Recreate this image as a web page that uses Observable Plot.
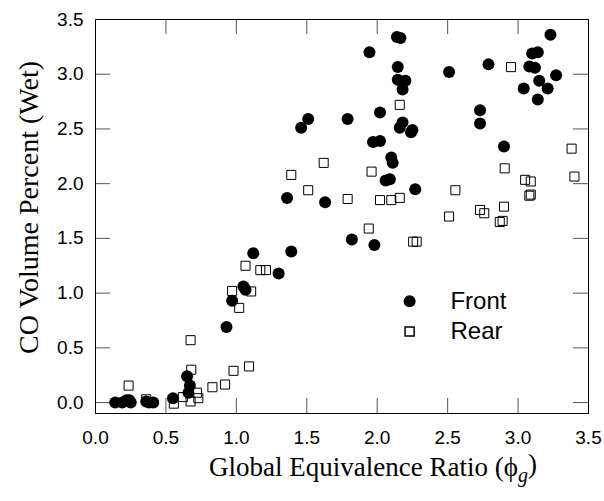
<!DOCTYPE html>
<html>
<head>
<meta charset="utf-8">
<script src="https://cdn.jsdelivr.net/npm/d3@7"></script>
<script src="https://cdn.jsdelivr.net/npm/@observablehq/plot@0.6"></script>
<style>
  html, body { margin: 0; padding: 0; background: #fff; }
</style>
</head>
<body>
<div id="chart"></div>
<script>
// Front (filled circles)
const frontX = [0.14,0.19,0.22,0.24,0.25,0.36,0.38,0.41,
  0.55,0.65,0.67,0.66,0.93,0.97,1.05,1.065,
  1.12,1.30,1.39,1.36,1.63,1.46,1.51,1.79,
  2.02,1.97,2.02,1.82,1.98,
  2.14,2.165,1.945,2.146,2.146,2.20,2.18,2.51,2.79,
  2.18,2.16,2.24,2.25,2.10,2.11,2.06,2.09,2.27,
  2.73,2.73,2.90,
  3.23,3.10,3.14,3.08,3.12,3.27,3.15,3.04,3.21,3.14];
const frontY = [0.00,0.00,0.02,0.02,0.00,0.01,0.00,0.00,
  0.04,0.24,0.155,0.09,0.69,0.93,1.06,1.03,
  1.365,1.18,1.38,1.87,1.83,2.51,2.59,2.59,
  2.65,2.38,2.39,1.49,1.44,
  3.34,3.33,3.20,3.065,2.95,2.94,2.86,3.02,3.09,
  2.56,2.51,2.47,2.49,2.24,2.19,2.03,2.04,1.95,
  2.67,2.55,2.34,
  3.36,3.19,3.20,3.07,3.06,2.99,2.94,2.87,2.87,2.77];

// Rear (open squares)
const rearX = [0.235,0.36,0.556,0.62,0.675,0.68,0.675,0.72,0.73,0.83,0.92,0.98,1.09,1.02,0.97,1.105,1.065,1.17,1.21,
  1.51,1.62,1.39,1.79,1.96,1.94,2.02,2.10,2.16,2.16,
  2.555,2.51,2.73,2.76,2.255,2.28,2.95,
  2.905,3.05,3.09,3.08,3.09,2.90,2.87,2.89,3.38,3.40];
const rearY = [0.155,0.03,-0.01,0.05,0.01,0.30,0.57,0.09,0.04,0.14,0.165,0.29,0.33,0.865,1.02,1.015,1.25,1.21,1.21,
  1.94,2.19,2.08,1.86,2.11,1.59,1.85,1.85,1.87,2.72,
  1.94,1.70,1.76,1.73,1.47,1.47,3.065,
  2.14,2.035,2.02,1.89,1.90,1.79,1.65,1.66,2.32,2.065];

const xTicks = [0, 0.5, 1.0, 1.5, 2.0, 2.5, 3.0, 3.5];
const yTicks = [0, 0.5, 1.0, 1.5, 2.0, 2.5, 3.0, 3.5];
const legendLabels = ["Front", "Rear"];
const xLabel = "Global Equivalence Ratio (ϕg)";
const yLabel = "CO Volume Percent (Wet)";

const front = frontX.map((x, i) => ({x, y: frontY[i]}));
const rear = rearX.map((x, i) => ({x, y: rearY[i]}));

const W = 604, H = 501;
const mL = 95, mR = 16, mT = 19, mB = 88;
const pw = W - mL - mR, ph = H - mT - mB;
const tick = 15;
const sans = "Liberation Sans, Arial, sans-serif";
const serif = "Liberation Serif, Times New Roman, serif";
const tickColor = "#555";

const plot = Plot.plot({
  width: W, height: H,
  marginLeft: mL, marginRight: mR, marginTop: mT, marginBottom: mB,
  style: {fontFamily: sans, background: "#fff"},
  x: {domain: [0, 3.5]},
  y: {domain: [-0.1, 3.5]},
  marks: [
    Plot.axisX(xTicks, {tickSize: 0, tickPadding: 17, tickFormat: d3.format(".1f"), fontSize: 19, fill: "#000", label: null}),
    Plot.axisY(yTicks, {tickSize: 0, tickPadding: 12, tickFormat: d3.format(".1f"), fontSize: 19, fill: "#000", label: null}),
    // inward tick marks on all four sides
    Plot.tickX(xTicks, {x: d => d, insetTop: ph - tick, stroke: tickColor}),
    Plot.tickX(xTicks, {x: d => d, insetBottom: ph - tick, stroke: tickColor}),
    Plot.tickY(yTicks, {y: d => d, insetRight: pw - tick, stroke: tickColor}),
    Plot.tickY(yTicks, {y: d => d, insetLeft: pw - tick, stroke: tickColor}),
    Plot.frame({stroke: "#000"}),
    Plot.dot(rear, {x: "x", y: "y", symbol: "square", r: 5.1, stroke: "#000", strokeWidth: 1, fill: "none"}),
    Plot.dot(front, {x: "x", y: "y", r: 6, fill: "#000", stroke: "none"}),
    // legend
    Plot.dot([legendLabels[0]], {x: 2.23, y: 0.925, r: 6, fill: "#000"}),
    Plot.dot([legendLabels[1]], {x: 2.23, y: 0.65, symbol: "square", r: 5.1, stroke: "#000", fill: "none"}),
    Plot.text(legendLabels, {x: 2.52, y: (d, i) => i === 0 ? 0.925 : 0.65, text: d => d, textAnchor: "start", fontSize: 24, fill: "#000"}),
    // axis titles
    Plot.text([xLabel], {frameAnchor: "bottom", dy: 62, dx: 31, textAnchor: "middle", text: d => d, fontSize: 27, fontFamily: serif, fill: "#000"}),
    Plot.text([yLabel], {frameAnchor: "left", dx: -66, dy: -9, rotate: -90, textAnchor: "middle", text: d => d, fontSize: 28, fontFamily: serif, fill: "#000"})
  ]
});

// subscript g in the x label
d3.select(plot).selectAll("text").filter(function() { return this.textContent === xLabel; })
  .each(function() {
    const t = d3.select(this);
    t.text(null);
    t.append("tspan").text("Global Equivalence Ratio (ϕ");
    t.append("tspan").attr("font-size", 20).attr("font-style", "italic").attr("dy", "0.3em").text("g");
    t.append("tspan").attr("dy", "-0.3em").text(")");
  });

document.getElementById("chart").appendChild(plot);
</script>
</body>
</html>
